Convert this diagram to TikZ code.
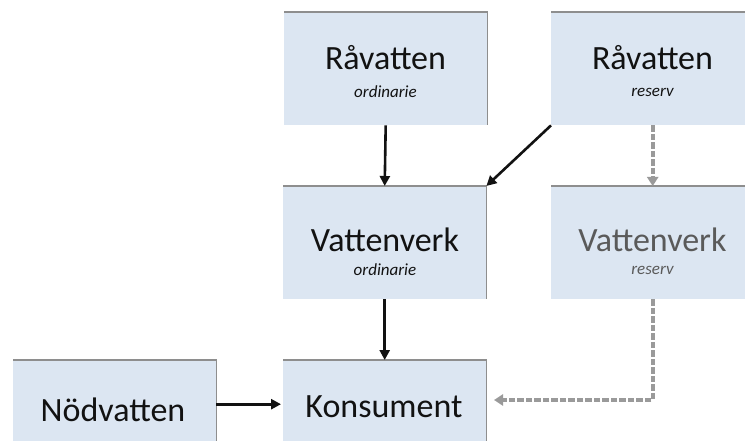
\documentclass[tikz,border=0pt]{standalone}
\usepackage{fontspec}
\setmainfont{Carlito}
\usetikzlibrary{arrows.meta}
\definecolor{boxblue}{HTML}{DCE6F2}
\definecolor{edgegray}{HTML}{8E8E8E}
\definecolor{dashgray}{HTML}{9A9A9A}
\definecolor{txtgray}{HTML}{5A5A5A}
\definecolor{ink}{HTML}{121212}
\begin{document}
\begin{tikzpicture}[x=1pt,y=-1pt,
  box/.style={fill=boxblue, minimum width=203pt, minimum height=113pt, inner sep=0pt, anchor=north west},
  lowbox/.style={box, minimum height=88pt},
  edge/.style={draw=edgegray, line width=1.8pt},
  title/.style={font=\fontsize{34}{38}\selectfont, text=ink, inner sep=0pt},
  sub/.style={font=\itshape\fontsize{17}{20}\selectfont, text=ink, inner sep=0pt},
  arr/.style={draw=ink, line width=2.6pt, -{Triangle[length=10pt,width=10pt]}},
  darr/.style={draw=dashgray, line width=3.6pt, dash pattern=on 6.5pt off 2pt, -{Triangle[length=9pt,width=11pt,fill=dashgray]}}]
\useasboundingbox (0,0) rectangle (745,441);
\clip (0,0) rectangle (745,441);
\fill[white] (0,0) rectangle (745,441);
% boxes
\node[box] (rvo) at (284,12) {};
\node[box] (rvr) at (551,12) {};
\node[box] (vvo) at (283,186) {};
\node[box] (vvr) at (551,186) {};
\node[lowbox] (kon) at (283,360) {};
\node[lowbox] (nod) at (13,360) {};
\foreach \n in {rvo,rvr,vvo,vvr,kon,nod}
  \draw[edge] (\n.north west) -- (\n.north east) -- (\n.south east);
% texts
\node[title] (t1) at (385.5,58) {Råvatten};
\node[sub] (s1) at (385.5,92) {ordinarie};
\node[title] (t2) at (652.5,58) {Råvatten};
\node[sub] (s2) at (652.5,92) {reserv};
\node[title] (t3) at (385,240) {Vattenverk};
\node[sub] (s3) at (385,270) {ordinarie};
\node[title, text=txtgray] (t4) at (652.5,240) {Vattenverk};
\node[sub, text=txtgray] (s4) at (652.5,270) {reserv};
\node[title] (t5) at (384,407) {Konsument};
\node[title] (t6) at (113,410) {Nödvatten};
% connectors
\draw[arr] (rvo.south) -- (vvo.north);
\draw[arr] (rvr.south west) -- (vvo.north east);
\draw[arr] (vvo.south) -- (kon.north);
\draw[arr] (nod.east) -- ([xshift=-2pt]kon.west);
\draw[darr] (rvr.south) -- (vvr.north);
\coordinate (kin) at (494,400);
\draw[darr] (vvr.south) |- (kin);
\end{tikzpicture}
\end{document}
